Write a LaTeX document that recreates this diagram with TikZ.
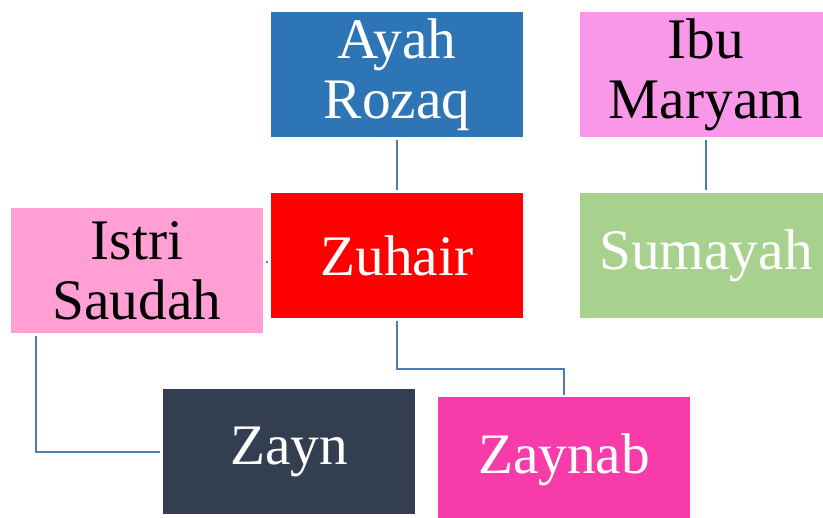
\documentclass[tikz,border=0pt]{standalone}
\usepackage{xcolor}
\usepackage{fontspec}
\setmainfont{Liberation Serif}
\usepackage{tikz}

\definecolor{ayahblue}{HTML}{2E75B6}
\definecolor{ibupink}{HTML}{F998E8}
\definecolor{istripink}{HTML}{FF9FD4}
\definecolor{sumgreen}{HTML}{A9D18E}
\definecolor{zaynslate}{HTML}{333F50}
\definecolor{zaynabpink}{HTML}{F73BA8}
\definecolor{linkblue}{HTML}{4A7EB5}

\tikzset{
  person/.style={rectangle,inner sep=0pt,minimum width=189pt,minimum height=93.75pt,
    align=center,font=\fontsize{43}{45}\selectfont,text=white},
  link/.style={draw=linkblue,line width=1.5pt}
}

\begin{document}
\begin{tikzpicture}[x=0.75pt,y=-0.75pt]
\useasboundingbox (0,0) rectangle (823,517);
% parents
\node[person,fill=ayahblue] (ayah) at (397,74.5) {Ayah\\Rozaq};
\node[person,fill=ibupink,text=black] (ibu) at (706,74.5) {Ibu\\Maryam};
% children
\node[person,fill=red] (zuhair) at (397,255.5) {Zuhair};
\node[person,fill=sumgreen] (sumayah) at (706,255.5) {Sumayah};
\node[person,fill=istripink,text=black] (istri) at (137,270.5) {Istri\\Saudah};
% grandchildren
\node[person,fill=zaynslate] (zayn) at (289,451.5) {Zayn};
\node[person,fill=zaynabpink] (zaynab) at (564,459.5) {Zaynab};

\draw[link,shorten <=2.25pt,shorten >=2.25pt] (ayah) -- (zuhair);
\draw[link,shorten <=2.25pt,shorten >=2.25pt] (ibu) -- (sumayah);
\draw[link,shorten <=2.25pt,shorten >=2.25pt] (istri.east |- 0,262) -- (zuhair.west |- 0,262);
\draw[link,shorten <=2.25pt,shorten >=1.5pt] (zuhair.south) -- ++(0,51) -| (zaynab.north);
\draw[link,shorten <=2.25pt,shorten >=2.25pt] ([xshift=18.75pt]istri.south west) |- (zayn.west);
\end{tikzpicture}
\end{document}
